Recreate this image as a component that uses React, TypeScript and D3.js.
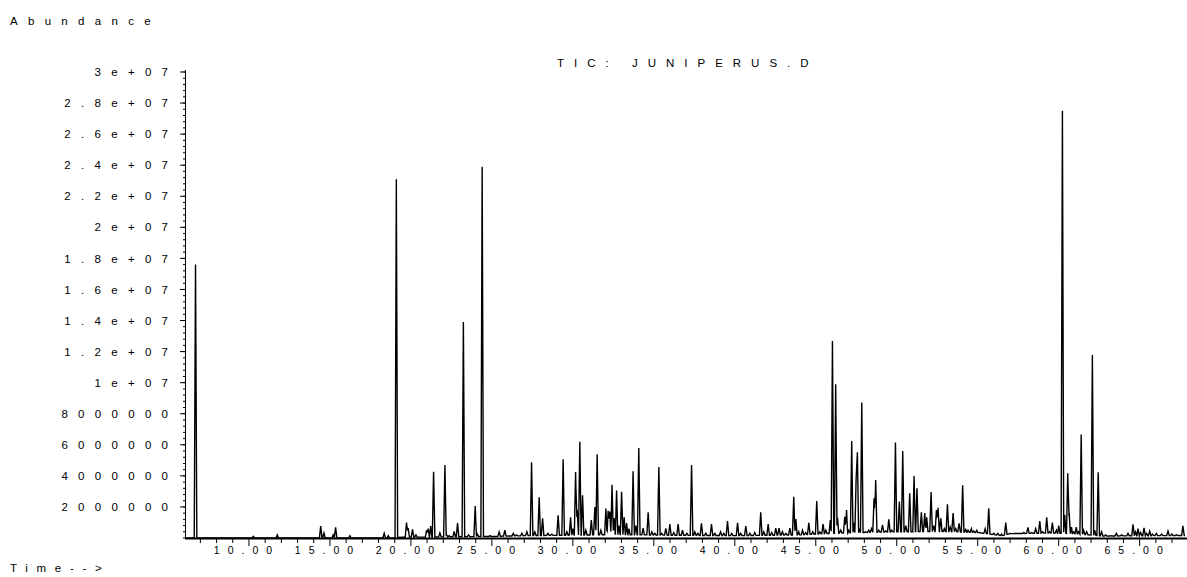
import React from "react";
import * as d3 from "d3";

const W = 1187;
const H = 577;

// Axis tick values and labels
const yTickValues = [2e6, 4e6, 6e6, 8e6, 1e7, 1.2e7, 1.4e7, 1.6e7, 1.8e7, 2e7, 2.2e7, 2.4e7, 2.6e7, 2.8e7, 3e7];
const yTickLabels = ["2000000", "4000000", "6000000", "8000000", "1e+07", "1.2e+07", "1.4e+07", "1.6e+07", "1.8e+07", "2e+07", "2.2e+07", "2.4e+07", "2.6e+07", "2.8e+07", "3e+07"];
const xLabelTimes = [10, 15, 20, 25, 30, 35, 40, 45, 50, 55, 60, 65];
const xTickLabels = ["10.00", "15.00", "20.00", "25.00", "30.00", "35.00", "40.00", "45.00", "50.00", "55.00", "60.00", "65.00"];

// Peaks: [retention time (min), abundance (millions)]
const peaks: [number, number][] = [
  [6.70, 17.6], [10.27, 0.10], [11.75, 0.2], [14.43, 0.77], [14.63, 0.32], [15.20, 0.2], [15.35, 0.69], [16.23, 0.15],
  [18.35, 0.3], [18.60, 0.15], [19.10, 23.1], [19.73, 1.0], [19.83, 0.64], [20.10, 0.56], [20.31, 0.2], [20.97, 0.5],
  [21.07, 0.6], [21.22, 0.77], [21.40, 4.27], [21.79, 0.32], [22.10, 4.70], [22.20, 0.2], [22.36, 0.15], [22.67, 0.43],
  [22.88, 0.96], [23.24, 13.9], [23.56, 0.2], [23.97, 2.06], [24.10, 0.25], [24.40, 23.9], [24.88, 0.15], [25.45, 0.39],
  [25.80, 0.5], [26.32, 0.3], [26.52, 0.2], [26.85, 0.3], [27.16, 0.4], [27.45, 4.87], [27.65, 0.4], [27.92, 2.62],
  [28.13, 1.27], [28.46, 0.3], [28.70, 0.25], [29.09, 1.46], [29.40, 5.07], [29.63, 0.4], [29.86, 1.33], [30.00, 0.6],
  [30.17, 4.25], [30.27, 1.8], [30.43, 6.2], [30.60, 2.75], [30.80, 0.5], [31.14, 1.16], [31.36, 2.0], [31.50, 5.39],
  [31.73, 0.5], [32.04, 1.9], [32.18, 1.76], [32.28, 1.7], [32.42, 3.43], [32.55, 1.29], [32.70, 3.05], [32.84, 0.8],
  [33.01, 2.98], [33.17, 1.33], [33.32, 0.96], [33.46, 0.6], [33.72, 4.3], [33.89, 0.8], [34.07, 5.8], [34.34, 0.64],
  [34.65, 1.65], [34.88, 0.4], [35.06, 0.3], [35.31, 4.57], [35.49, 0.3], [35.74, 0.62], [35.99, 0.9], [36.23, 0.35],
  [36.50, 0.9], [36.77, 0.5], [37.04, 0.3], [37.33, 4.7], [37.53, 0.4], [37.72, 0.3], [37.94, 0.95], [38.21, 0.3],
  [38.56, 0.9], [38.77, 0.3], [39.12, 0.4], [39.32, 0.3], [39.55, 1.09], [39.81, 0.3], [40.17, 0.98], [40.37, 0.3],
  [40.68, 0.77], [40.93, 0.3], [41.23, 0.35], [41.60, 1.65], [41.79, 0.4], [42.06, 0.9], [42.28, 0.35], [42.53, 0.64],
  [42.73, 0.64], [42.94, 0.4], [43.15, 0.3], [43.40, 0.64], [43.64, 2.66], [43.77, 1.22], [43.95, 0.4], [44.18, 0.5],
  [44.38, 0.35], [44.57, 0.98], [44.81, 0.4], [45.06, 2.38], [45.25, 0.4], [45.45, 0.9], [45.62, 0.5], [45.90, 1.16],
  [46.03, 12.68], [46.23, 9.89], [46.34, 1.3], [46.54, 0.5], [46.79, 1.37], [46.90, 1.8], [47.04, 0.5], [47.22, 6.24],
  [47.35, 1.0], [47.49, 3.78], [47.57, 5.52], [47.72, 0.6], [47.84, 8.73], [48.09, 0.4], [48.27, 0.5], [48.44, 0.6],
  [48.60, 2.55], [48.70, 3.73], [48.89, 0.5], [49.12, 0.84], [49.32, 0.45], [49.51, 1.2], [49.69, 0.5], [49.92, 6.14],
  [50.16, 2.34], [50.37, 5.6], [50.56, 0.8], [50.80, 2.88], [51.07, 3.99], [51.25, 3.2], [51.52, 1.65], [51.73, 1.6],
  [51.85, 1.33], [52.12, 2.96], [52.28, 0.8], [52.45, 1.8], [52.55, 1.95], [52.72, 1.27], [52.94, 0.6], [53.13, 2.17],
  [53.30, 0.7], [53.48, 1.6], [53.64, 0.6], [53.85, 0.95], [54.07, 3.39], [54.26, 0.55], [54.40, 0.5], [54.61, 0.6],
  [54.75, 0.45], [54.94, 0.5], [55.12, 0.35], [55.46, 0.6], [55.68, 1.91], [55.99, 0.3], [56.25, 0.3], [56.48, 0.25],
  [56.73, 1.0], [56.98, 0.3], [57.28, 0.3], [57.59, 0.3], [57.84, 0.35], [58.10, 0.69], [58.33, 0.35], [58.58, 0.6],
  [58.83, 1.09], [59.01, 0.4], [59.26, 1.33], [59.44, 0.4], [59.61, 1.0], [59.86, 0.5], [60.00, 0.8], [60.23, 27.5],
  [60.37, 1.5], [60.56, 4.16], [60.65, 1.6], [60.79, 0.7], [60.93, 0.4], [61.09, 0.7], [61.23, 0.4], [61.39, 6.67],
  [61.54, 0.5], [61.73, 0.4], [62.08, 11.78], [62.22, 0.5], [62.44, 4.23], [62.65, 0.4], [62.90, 0.2], [63.21, 0.15],
  [63.56, 0.3], [63.89, 0.2], [64.28, 0.3], [64.59, 0.88], [64.75, 0.4], [64.90, 0.6], [65.06, 0.35], [65.27, 0.65],
  [65.43, 0.3], [65.62, 0.45], [65.80, 0.25], [66.03, 0.3], [66.36, 0.25], [66.75, 0.45], [66.98, 0.25], [67.28, 0.2],
  [67.67, 0.79],
];

// Baseline level: [time (min), abundance (millions)]
const baselineKnots: [number, number][] = [
  [6.05, 0], [18.5, 0], [19.5, 0.05], [25, 0.1], [27, 0.15], [33, 0.22], [36, 0.18], [40, 0.15], [44, 0.2],
  [46, 0.3], [50, 0.4], [53, 0.42], [55, 0.35], [56.5, 0.15], [57, 0.28], [59.5, 0.32], [61, 0.28], [62.8, 0.12],
  [64, 0.14], [67.8, 0.16],
];

const FONT = "'Liberation Sans', Arial, Helvetica, sans-serif";

export default function App() {
  const x = d3.scaleLinear().domain([6.05, 67.8]).range([185, 1185]);
  const y = d3.scaleLinear().domain([0, 3e7]).range([538, 72]);
  const base = d3.scaleLinear()
    .domain(baselineKnots.map((k) => k[0]))
    .range(baselineKnots.map((k) => k[1]))
    .clamp(true);

  const halfWidth = 0.08; // minutes, drawing width of a peak
  const sampleTimes: number[] = [];
  baselineKnots.forEach((k) => sampleTimes.push(k[0]));
  peaks.forEach(([t]) => {
    sampleTimes.push(t - halfWidth, t, t + halfWidth);
  });
  sampleTimes.sort((a, b) => a - b);
  const trace = sampleTimes
    .filter((t) => t >= 6.05 && t <= 67.8)
    .map((t) => {
      let v = base(t);
      for (const [pt, ph] of peaks) {
        const d = Math.abs(t - pt);
        if (d < halfWidth + 1e-9) {
          const tri = ph * (1 - d / halfWidth);
          if (tri > v) v = tri;
        }
      }
      return [t, v * 1e6] as [number, number];
    });

  const line = d3.line<[number, number]>()
    .x((d) => x(d[0]))
    .y((d) => y(d[1]));

  const yMinor = d3.range(0, 3e7 + 1, 4e5);
  const xMinor = d3.range(7, 68, 1);

  const bigLS = "10.3px";
  const smallLS = "8px";

  return (
    <svg width={W} height={H} style={{ position: "absolute", left: 0, top: 0, background: "#fff" }}
      fontFamily={FONT}>
      <rect x={0} y={0} width={W} height={H} fill="#fff" />
      <text x={10} y={25} fontSize={11.5} style={{ letterSpacing: bigLS }} fill="#000">Abundance</text>
      <text x={557} y={67} fontSize={11.5} style={{ letterSpacing: "10px" }} fill="#000">TIC: JUNIPERUS.D</text>
      <text x={10} y={572} fontSize={11.5} style={{ letterSpacing: "8.7px" }} fill="#000">Time--&gt;</text>

      {/* y axis */}
      <line x1={185.5} x2={185.5} y1={70} y2={538} stroke="#000" strokeWidth={1} />
      {yMinor.map((v, i) => (
        <line key={"ym" + i} x1={183} x2={186} y1={y(v)} y2={y(v)} stroke="#000" strokeWidth={1} />
      ))}
      {yTickValues.map((v, i) => (
        <g key={"yt" + i}>
          <line x1={180} x2={186} y1={y(v)} y2={y(v)} stroke="#000" strokeWidth={1} />
          <text x={168 + 10.3} y={y(v)} dy="0.36em" textAnchor="end" fontSize={11.5}
            style={{ letterSpacing: bigLS }} fill="#000">{yTickLabels[i]}</text>
        </g>
      ))}

      {/* trace */}
      <path d={line(trace) || ""} fill="none" stroke="#000" strokeWidth={1.4} strokeLinejoin="miter" />

      {/* x axis */}
      <line x1={185} x2={1187} y1={538.5} y2={538.5} stroke="#000" strokeWidth={2} />
      {xMinor.map((t) => (
        <line key={"xm" + t} x1={x(t)} x2={x(t)} y1={538} y2={t % 5 === 0 ? 546 : 543} stroke="#000" strokeWidth={1} />
      ))}
      {xLabelTimes.map((t, i) => (
        <text key={"xl" + i} x={x(t) - 2} y={554} textAnchor="middle" fontSize={10.5}
          style={{ letterSpacing: smallLS }} fill="#000">{xTickLabels[i]}</text>
      ))}
    </svg>
  );
}
